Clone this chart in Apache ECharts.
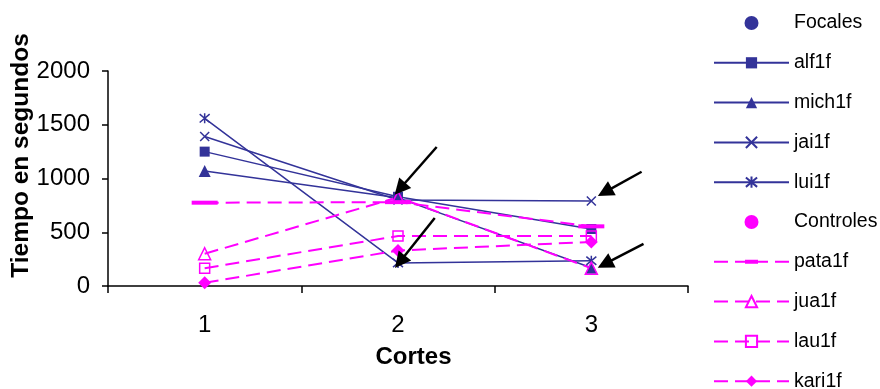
<!DOCTYPE html>
<html><head><meta charset="utf-8">
<script src="https://cdn.jsdelivr.net/npm/echarts@6/dist/echarts.min.js"></script>
<style>html,body{margin:0;padding:0;background:#fff}#c{width:880px;height:389px}</style>
</head><body><div id="c"></div>
<script>
// ---- data ----
const categories = ['1', '2', '3'];
const yTicks = [0, 500, 1000, 1500, 2000];
const alf1f  = [1250, 830, 530];
const mich1f = [1070, 820, 170];
const jai1f  = [1390, 800, 790];
const lui1f  = [1560, 215, 235];
const pata1f = [775, 780, 555];
const jua1f  = [300, 825, 165];
const lau1f  = [165, 465, 465];
const kari1f = [30, 330, 410];
// annotation arrows: [tail, head] in (category position, seconds)
const arrows = [
  [[2.20, 1293], [2.01, 905]],
  [[2.19, 633],  [2.01, 225]],
  [[3.26, 1063], [3.07, 873]],
  [[3.27, 391],  [3.07, 205]]
];

const NAVY = '#333399', PINK = '#FF00FF';
const FONT = 'Liberation Sans, Arial, sans-serif';
const X_PATH = 'path://M0,0L10,10M0,10L10,0';
const AST_PATH = 'path://M0,0L10,10M0,10L10,0M5,-1L5,11';
const DASH = [14, 7];

function navy(name, data, symbol, size) {
  return { name, type: 'line', data, color: NAVY, symbol, symbolSize: size,
    itemStyle: { color: NAVY, borderColor: NAVY, borderWidth: (symbol.indexOf('path') === 0 ? 1.5 : 0) },
    lineStyle: { color: NAVY, width: 1.5 } };
}
function pink(name, data, symbol, size, hollow) {
  return { name, type: 'line', data, color: PINK, symbol, symbolSize: size,
    itemStyle: hollow ? { color: 'rgba(255,255,255,0)', borderColor: PINK, borderWidth: 1.5 } : { color: PINK },
    lineStyle: { color: PINK, width: 2, type: DASH } };
}

const chart = echarts.init(document.getElementById('c'), null, { renderer: 'canvas' });
chart.setOption({
  animation: false,
  textStyle: { fontFamily: FONT },
  grid: { left: 108, right: 192, top: 71, bottom: 103, containLabel: false, outerBoundsMode: 'none' },
  legend: {
    orient: 'vertical', left: 708, top: 8, height: 420,
    itemWidth: 75, itemHeight: 14, itemGap: 19.8,
    textStyle: { fontSize: 19.5, color: '#000', fontFamily: FONT, lineHeight: 20 },
    data: [
      { name: 'Focales', icon: 'circle' },
      'alf1f', 'mich1f', 'jai1f', 'lui1f',
      { name: 'Controles', icon: 'circle' },
      { name: 'pata1f', icon: 'path://M0,1h14v2h-14zM21,1h10v2h-10zM31,0h13v4h-13zM44,1h10v2h-10zM61,1h14v2h-14z' },
      'jua1f', 'lau1f', 'kari1f'
    ]
  },
  xAxis: [{
    type: 'category', data: categories, boundaryGap: true,
    axisLine: { lineStyle: { color: '#000', width: 1.5 } },
    axisTick: { show: true, length: 7, lineStyle: { color: '#000', width: 1.5 } },
    axisLabel: { fontSize: 24, color: '#000', margin: 27, fontFamily: FONT },
    name: 'Cortes', nameLocation: 'middle', nameGap: 59, nameMoveOverlap: false,
    nameTextStyle: { fontSize: 24, fontWeight: 'bold', color: '#000', fontFamily: FONT, padding: [0, 0, 0, 31] }
  }, {
    type: 'value', min: 0.5, max: 3.5, show: false
  }],
  yAxis: {
    type: 'value', min: yTicks[0], max: yTicks[yTicks.length - 1], interval: yTicks[1] - yTicks[0],
    axisLine: { show: true, lineStyle: { color: '#000', width: 1.5 } },
    axisTick: { show: true, length: 6, lineStyle: { color: '#000', width: 1.5 } },
    splitLine: { show: false },
    axisLabel: { fontSize: 24, color: '#000', margin: 18, fontFamily: FONT, formatter: v => String(v) },
    name: 'Tiempo en segundos', nameLocation: 'middle', nameRotate: 90, nameGap: 74, nameMoveOverlap: false,
    nameTextStyle: { fontSize: 24.5, fontWeight: 'bold', color: '#000', fontFamily: FONT, padding: [0, 0, 0, 46] }
  },
  series: [
    { name: 'Focales', type: 'line', data: [], color: NAVY, itemStyle: { color: NAVY } },
    navy('alf1f', alf1f, 'rect', 10),
    navy('mich1f', mich1f, 'triangle', 12),
    navy('jai1f', jai1f, X_PATH, 9),
    navy('lui1f', lui1f, AST_PATH, 10),
    { name: 'Controles', type: 'line', data: [], color: PINK, itemStyle: { color: PINK } },
    pink('pata1f', pata1f, 'rect', [26, 4], false),
    pink('jua1f', jua1f, 'triangle', 12, true),
    pink('lau1f', lau1f, 'rect', 10, true),
    pink('kari1f', kari1f, 'diamond', 13, false),
    {
      type: 'lines', coordinateSystem: 'cartesian2d', xAxisIndex: 1, yAxisIndex: 0, z: 10, silent: true,
      symbol: ['none', 'triangle'], symbolSize: [1, 16],
      lineStyle: { color: '#000', width: 2.5, opacity: 1, curveness: 0 },
      data: arrows.map(a => ({ coords: a }))
    }
  ]
});
</script>
</body></html>
